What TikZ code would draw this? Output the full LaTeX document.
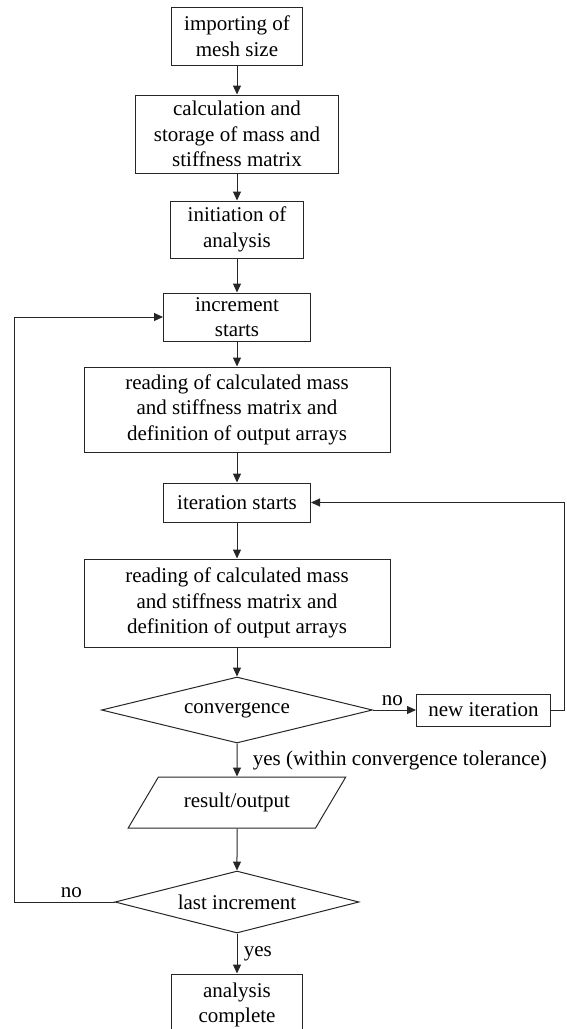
\documentclass[tikz,border=0pt]{standalone}
\usepackage{fontspec}
\setmainfont{Liberation Serif}
\usetikzlibrary{arrows.meta, positioning, shapes.geometric}

\begin{document}
\begin{tikzpicture}[
    x=1pt, y=-1pt,
    every node/.style={font=\fontsize{21}{25.5}\selectfont},
    process/.style={rectangle, draw=black!85, line width=1pt, align=center, inner sep=2pt},
    decision/.style={diamond, draw=black!85, line width=1pt, align=center, inner sep=0pt, aspect=4},
    data/.style={trapezium, trapezium left angle=43, trapezium right angle=137, trapezium stretches=true, draw=black!85, line width=1pt, align=center, inner sep=0pt},
    arrow/.style={-{Triangle[length=9pt, width=8pt]}, draw=black!85, line width=1pt}
]
\useasboundingbox (0,0) rectangle (566,1029);

% Main column
\node[process, minimum width=131pt, minimum height=58pt] (import) at (237,36) {importing of\\mesh size};
\node[process, below=29pt of import, minimum width=203pt, minimum height=78pt] (calc) {calculation and\\storage of mass and\\stiffness matrix};
\node[process, below=27pt of calc, minimum width=133pt, minimum height=57pt] (init) {initiation of\\analysis};
\node[process, below=34pt of init, minimum width=147pt, minimum height=48pt, inner sep=0pt] (incr) {increment\\starts};
\node[process, below=25pt of incr, minimum width=306pt, minimum height=85pt] (read1) {reading of calculated mass\\and stiffness matrix and\\definition of output arrays};
\node[process, below=30pt of read1, minimum width=147pt, minimum height=39pt] (iter) {iteration starts};
\node[process, below=36pt of iter, minimum width=306pt, minimum height=88pt] (read2) {reading of calculated mass\\and stiffness matrix and\\definition of output arrays};
\node[decision, below=29pt of read2, minimum width=271pt, minimum height=66pt] (conv) {convergence};
\node[data, below=33pt of conv, minimum width=218pt, minimum height=51pt] (result) {result/output};
\node[decision, below=42pt of result, minimum width=244pt, minimum height=62pt] (last) {last increment};
\node[process, below=40pt of last, minimum width=131pt, minimum height=62pt] (done) {analysis\\complete};

% Iteration loop
\node[process, right=43pt of conv, minimum width=134pt, minimum height=32pt, inner sep=1pt] (newit) {new iteration};
\coordinate (loopR) at (564.5,0);
\coordinate (loopL) at (14,0);

% Arrows
\draw[arrow] (import) -- (calc);
\draw[arrow] (calc) -- (init);
\draw[arrow] (init) -- (incr);
\draw[arrow] (incr) -- (read1);
\draw[arrow] (read1) -- (iter);
\draw[arrow] (iter) -- (read2);
\draw[arrow] (read2) -- (conv);
\draw[arrow] (conv) -- node[right, xshift=12pt] {yes (within convergence tolerance)} (result);
\draw[arrow] (conv.east) -- node[above, pos=0.45] {no} (newit.west);
\draw[arrow] (newit.east) -- (newit.east -| loopR) |- (iter.east);
\draw[arrow] (result) -- (last);
\draw[arrow] (last) -- node[right, xshift=3pt] {yes} (done);
\draw[arrow] (last.west) -- node[above, pos=0.43] {no} (last.west -| loopL) |- (incr.west);

\end{tikzpicture}
\end{document}
